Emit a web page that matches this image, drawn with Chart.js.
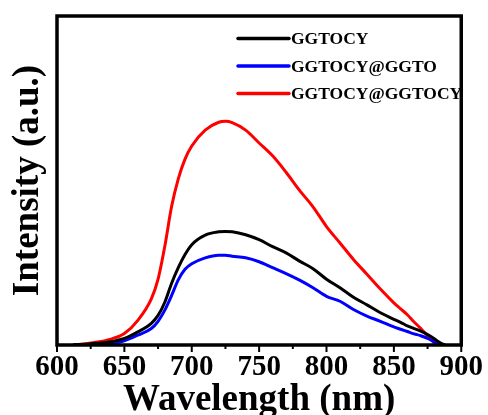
<!DOCTYPE html>
<html>
<head>
<meta charset="utf-8">
<script src="https://cdn.jsdelivr.net/npm/chart.js@4.4.0/dist/chart.umd.min.js"></script>
<style>
  html, body { margin: 0; padding: 0; background: #fff; }
  #wrap { width: 488px; height: 415px; }
</style>
</head>
<body>
<div id="wrap"><canvas id="pl"></canvas></div>
<script>
// emission spectra, intensity in arbitrary units (0 at baseline, 100 at top frame)
const wavelength = [612, 620, 630, 640, 650, 660, 670, 675, 680, 685, 690, 695, 700, 710, 720, 725, 730, 740, 750, 760,
  770, 780, 790, 800, 810, 820, 830, 840, 850, 855, 860, 865, 870, 875, 880, 881, 885, 888];
const ggtocy = [0, 0.2, 0.5, 1, 2, 4, 6.6, 9, 13, 18.7, 23.5, 27.5, 30.5, 33.4, 34.4, 34.5, 34.4, 33.5, 32, 29.9,
  28, 25.5, 23.2, 20, 17.4, 14.5, 12.2, 9.8, 7.8, 6.9, 5.8, 5, 4.2, 3.2, 1.9, 1.6, 0.5, 0];
const ggtocyAtGgto = [0, 0.1, 0.3, 0.4, 1.3, 3, 5, 7.2, 10.6, 15, 19.8, 23, 24.7, 26.5, 27.3, 27.3, 27, 26.5, 25.3, 23.5,
  21.7, 19.7, 17.4, 14.8, 13.3, 10.8, 8.8, 7.2, 5.5, 4.8, 4.1, 3.4, 2.8, 2, 1, 0.8, 0, null];
const ggtocyAtGgtocy = [0, 0.3, 0.9, 1.8, 3.5, 7.5, 14, 20, 30, 42, 50.5, 56.5, 60.5, 65.3, 67.7, 68, 67.6, 65.3, 61.4, 57.5,
  52.5, 47, 42, 36, 31, 26, 21.5, 17, 12.8, 11, 9.2, 7, 5, 2.7, 0.6, 0, null, null];

const seriesNames = ['GGTOCY', 'GGTOCY@GGTO', 'GGTOCY@GGTOCY'];
const seriesColors = ['#000000', '#0000ff', '#ff0000'];
const xTicks = [600, 650, 700, 750, 800, 850, 900];
const xMinorTicks = [625, 675, 725, 775, 825, 875];

const serif = '"Liberation Serif", "Times New Roman", serif';

/* ── frame, outward ticks and in-plot legend ───── */
const framePlugin = {
  id: 'frame',
  afterDraw(chart) {
    const { ctx, chartArea: a } = chart;
    const xs = chart.scales.x;
    ctx.save();
    ctx.strokeStyle = '#000';
    ctx.lineWidth = 2;
    xTicks.forEach(v => {
      const px = xs.getPixelForValue(v);
      ctx.beginPath(); ctx.moveTo(px, a.bottom); ctx.lineTo(px, a.bottom + 7); ctx.stroke();
    });
    xMinorTicks.forEach(v => {
      const px = xs.getPixelForValue(v);
      ctx.beginPath(); ctx.moveTo(px, a.bottom); ctx.lineTo(px, a.bottom + 4); ctx.stroke();
    });
    ctx.lineWidth = 3.5;
    ctx.strokeRect(a.left, a.top, a.right - a.left, a.bottom - a.top);

    // legend
    ctx.font = 'bold 17.5px ' + serif;
    ctx.textBaseline = 'middle';
    ctx.textAlign = 'left';
    chart.data.datasets.forEach((ds, i) => {
      const y = 38.5 + i * 27.5;
      ctx.strokeStyle = ds.borderColor;
      ctx.lineWidth = 3.5;
      ctx.lineCap = 'round';
      ctx.beginPath(); ctx.moveTo(238, y); ctx.lineTo(289, y); ctx.stroke();
      ctx.fillStyle = '#000';
      ctx.fillText(ds.label, 291, y + 1);
    });
    ctx.restore();
  },
};

function makeSet(name, values, color) {
  return {
    label: name,
    data: wavelength.map((w, i) => ({ x: w, y: values[i] })),
    borderColor: color,
    backgroundColor: color,
    borderWidth: 3,
    pointRadius: 0,
    cubicInterpolationMode: 'monotone',
    spanGaps: false,
  };
}

new Chart(document.getElementById('pl'), {
  type: 'line',
  data: {
    datasets: [
      makeSet(seriesNames[0], ggtocy, seriesColors[0]),
      makeSet(seriesNames[1], ggtocyAtGgto, seriesColors[1]),
      makeSet(seriesNames[2], ggtocyAtGgtocy, seriesColors[2]),
    ],
  },
  options: {
    responsive: true,
    maintainAspectRatio: false,
    animation: false,
    layout: { padding: { left: 0, right: 20, top: 16, bottom: 0 } },
    plugins: { legend: { display: false }, tooltip: { enabled: false } },
    scales: {
      x: {
        type: 'linear',
        min: 600,
        max: 900,
        afterFit: s => { s.height = 70; },
        afterBuildTicks: s => { s.ticks = xTicks.map(v => ({ value: v })); },
        grid: { display: false, drawTicks: false },
        border: { display: false },
        ticks: { color: '#000', padding: 5, maxRotation: 0, font: { family: serif, size: 29, weight: 'bold' } },
        title: {
          display: true,
          text: 'Wavelength (nm)',
          color: '#000',
          font: { family: serif, size: 37, weight: 'bold', lineHeight: 1 },
          padding: { top: 0, bottom: -4 },
        },
      },
      y: {
        min: 0,
        max: 100,
        afterFit: s => { s.width = 57; },
        grid: { display: false, drawTicks: false },
        border: { display: false },
        ticks: { display: false },
        title: {
          display: true,
          text: 'Intensity (a.u.)',
          color: '#000',
          font: { family: serif, size: 37, weight: 'bold', lineHeight: 1 },
          padding: { top: 10, bottom: 0 },
        },
      },
    },
  },
  plugins: [framePlugin],
});
</script>
</body>
</html>
